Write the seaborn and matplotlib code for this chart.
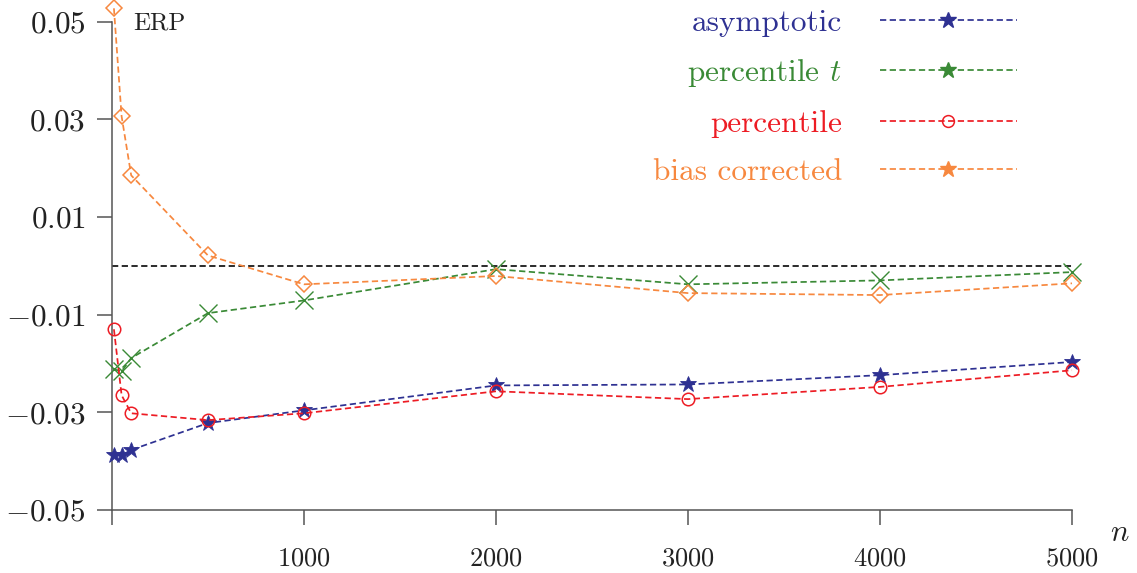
import matplotlib
matplotlib.use("Agg")
import matplotlib.pyplot as plt
from matplotlib.lines import Line2D
import seaborn as sns
import pandas as pd

# ---- data ----
n_values = [10, 50, 100, 500, 1000, 2000, 3000, 4000, 5000]
asymptotic = [-0.0388, -0.0388, -0.0377, -0.0322, -0.0296, -0.0245, -0.0243, -0.0224, -0.0197]
percentile_t = [-0.0212, -0.0216, -0.0189, -0.0097, -0.0071, -0.0007, -0.0038, -0.0030, -0.0013]
percentile = [-0.0130, -0.0265, -0.0302, -0.0316, -0.0302, -0.0257, -0.0273, -0.0248, -0.0214]
bias_corrected = [0.0527, 0.0306, 0.0185, 0.0021, -0.0038, -0.0021, -0.0056, -0.0060, -0.0036]

series_names = ["asymptotic", "percentile $t$", "percentile", "bias corrected"]
y_ticks = [-0.05, -0.03, -0.01, 0.01, 0.03, 0.05]
y_tick_labels = ["$-0.05$", "$-0.03$", "$-0.01$", "$0.01$", "$0.03$", "$0.05$"]
x_ticks = [0, 1000, 2000, 3000, 4000, 5000]
x_tick_labels = ["", "$1000$", "$2000$", "$3000$", "$4000$", "$5000$"]

# ---- style ----
sns.set_style("white")
plt.rcParams["font.family"] = ["cmr10", "DejaVu Serif"]
plt.rcParams["mathtext.fontset"] = "cm"
plt.rcParams["axes.formatter.use_mathtext"] = True

colors = ["#2e3192", "#3a8a36", "#ed1c24", "#f7883f"]
axis_color = "#555555"

fig = plt.figure(figsize=(11.37, 5.73), dpi=100)
ax = fig.add_axes([112 / 1137, 1 - 510 / 573, 960 / 1137, (510 - 21.5) / 573])

df = pd.DataFrame({"n": n_values, "asymptotic": asymptotic, "percentile_t": percentile_t,
                   "percentile": percentile, "bias_corrected": bias_corrected})

dash = (3.6, 2.0)
lw = 1.25
ax.axhline(0, color="#111111", lw=lw, dashes=dash, zorder=1)

sns.lineplot(data=df, x="n", y="asymptotic", ax=ax, color=colors[0], lw=lw,
             linestyle=(0, dash), marker="*", markersize=12, markeredgewidth=0.6,
             markerfacecolor=colors[0], markeredgecolor=colors[0], clip_on=False, zorder=3)
sns.lineplot(data=df, x="n", y="percentile_t", ax=ax, color=colors[1], lw=lw,
             linestyle=(0, dash), marker="x", markersize=12.5, markeredgewidth=1.0,
             markeredgecolor=colors[1], clip_on=False, zorder=3)
sns.lineplot(data=df, x="n", y="percentile", ax=ax, color=colors[2], lw=lw,
             linestyle=(0, dash), marker="o", markersize=9, markeredgewidth=1.1,
             markerfacecolor="none", markeredgecolor=colors[2], clip_on=False, zorder=3)
sns.lineplot(data=df, x="n", y="bias_corrected", ax=ax, color=colors[3], lw=lw,
             linestyle=(0, dash), marker="D", markersize=8, markeredgewidth=1.1,
             markerfacecolor="none", markeredgecolor=colors[3], clip_on=False, zorder=3)

ax.set_xlim(0, 5000)
ax.set_ylim(-0.05, 0.05)
ax.set_xlabel("")
ax.set_ylabel("")
ax.set_yticks(y_ticks)
ax.set_yticklabels(y_tick_labels)
ax.set_xticks(x_ticks)
ax.set_xticklabels(x_tick_labels)

for side in ["top", "right"]:
    ax.spines[side].set_visible(False)
for side in ["left", "bottom"]:
    ax.spines[side].set_color(axis_color)
    ax.spines[side].set_linewidth(1.1)

ax.tick_params(axis="y", left=True, direction="out", length=11, width=1.1, color=axis_color,
               labelsize=22.5, pad=8, labelcolor="#222222")
ax.tick_params(axis="x", bottom=True, direction="out", length=10.5, width=1.1, color=axis_color,
               labelsize=19, pad=16, labelcolor="#222222")

ax.text(1.05, -0.047, "$n$", transform=ax.transAxes, fontsize=22, ha="center", va="center",
        color="#222222")
ax.text(0.022, 0.997, "ERP", transform=ax.transAxes, fontsize=18, ha="left", va="center",
        color="#222222")

handles = [
    Line2D([], [], color=colors[0], lw=lw, linestyle=(0, dash), marker="*", markersize=12),
    Line2D([], [], color=colors[1], lw=lw, linestyle=(0, dash), marker="*", markersize=12),
    Line2D([], [], color=colors[2], lw=lw, linestyle=(0, dash), marker="o", markersize=8.5,
           markerfacecolor="none", markeredgewidth=1.1),
    Line2D([], [], color=colors[3], lw=lw, linestyle=(0, dash), marker="*", markersize=12),
]
leg = ax.legend(handles, series_names, loc="upper right", bbox_to_anchor=(1017 / 1137, 0.985),
                bbox_transform=fig.transFigure, frameon=False, markerfirst=False,
                fontsize=22.5, handlelength=4.4, handletextpad=1.2, labelspacing=0.66,
                borderpad=0, borderaxespad=0)
for t, c in zip(leg.get_texts(), colors):
    t.set_color(c)

fig.savefig("out.png", dpi=100)
